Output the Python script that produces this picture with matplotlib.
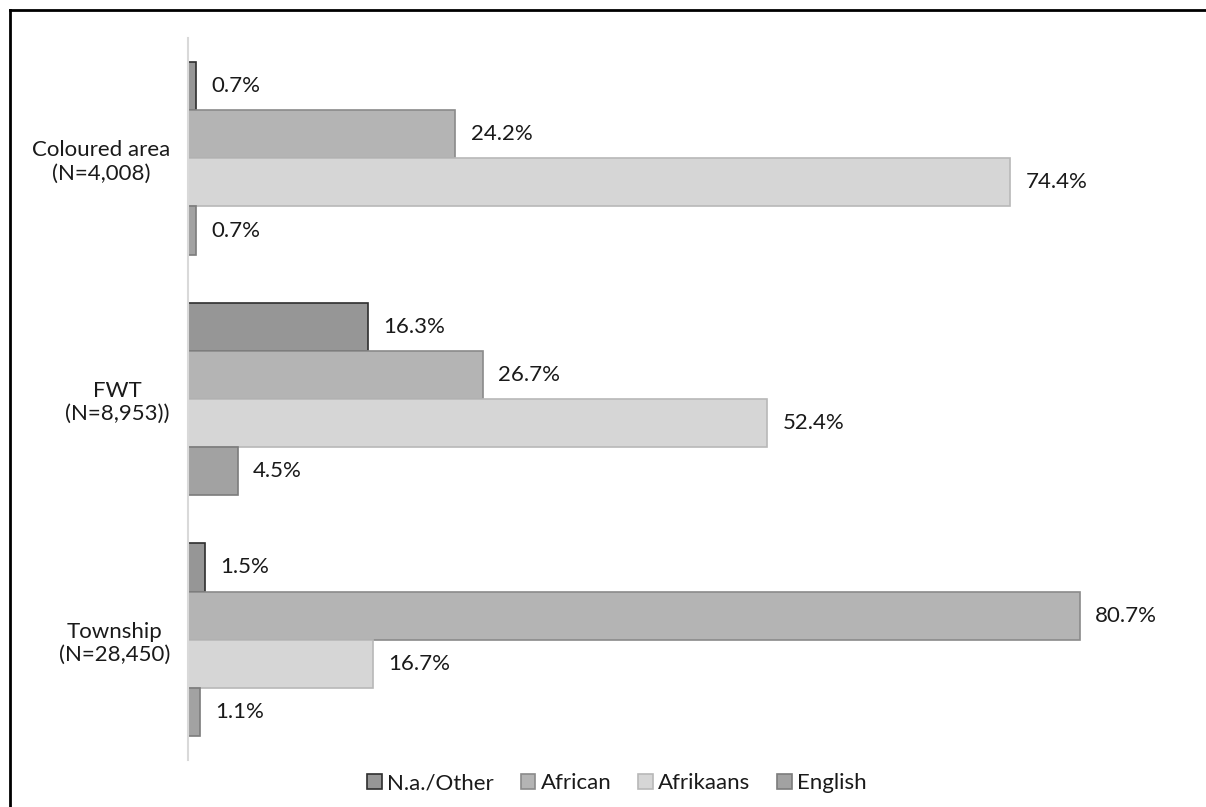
"""Home language by area type, horizontal grouped bars (greyscale)."""

import matplotlib.pyplot as plt
import numpy as np
from matplotlib.lines import Line2D
from matplotlib.patches import Patch

plt.rcParams["font.family"] = ["Lato", "DejaVu Sans"]

AREAS = ["Coloured area\n(N=4,008)", "FWT\n(N=8,953))", "Township\n(N=28,450)"]
LANGUAGES = ["N.a./Other", "African", "Afrikaans", "English"]

# percentages per language, in area order
NA_OTHER = [0.7, 16.3, 1.5]
AFRICAN = [24.2, 26.7, 80.7]
AFRIKAANS = [74.4, 52.4, 16.7]
ENGLISH = [0.7, 4.5, 1.1]

FILLS = ["#969696", "#b4b4b4", "#d6d6d6", "#a2a2a2"]
EDGES = ["#2e2e2e", "#8a8a8a", "#b8b8b8", "#7c7c7c"]

FS = 16


def main() -> None:
    fig = plt.figure(figsize=(12.06, 8.07), dpi=100)
    ax = fig.add_axes([188 / 1206, 1 - 760 / 807, 0.9806 - 188 / 1206, 722 / 807])

    series = [NA_OTHER, AFRICAN, AFRIKAANS, ENGLISH]
    y = np.arange(len(AREAS))
    h = 0.2
    for j, (vals, fc, ec) in enumerate(zip(series, FILLS, EDGES)):
        pos = y + (j - 1.5) * h
        ax.barh(pos, vals, height=h, color=fc, edgecolor=ec, linewidth=1.2, zorder=2)
        for p, v in zip(pos, vals):
            ax.annotate(f"{v:.1f}%", (v, p), xytext=(11, 0), textcoords="offset points",
                        ha="left", va="center", fontsize=FS, color="#1a1a1a")

    ax.set_xlim(0, 90)
    ax.set_ylim(2.5, -0.5)
    ax.set_yticks(y)
    ax.set_yticklabels(AREAS, fontsize=FS, multialignment="center", linespacing=1.2,
                       color="#1a1a1a")
    ax.tick_params(axis="y", length=0, pad=13)
    ax.set_xticks([])
    for side in ["top", "right", "bottom"]:
        ax.spines[side].set_visible(False)
    ax.spines["left"].set_color("#d9d9d9")
    ax.spines["left"].set_linewidth(1.5)

    handles = [Patch(facecolor=fc, edgecolor=ec, linewidth=1.2) for fc, ec in zip(FILLS, EDGES)]
    fig.legend(handles, LANGUAGES, loc="center", bbox_to_anchor=(617 / 1206, 1 - 783 / 807),
               ncol=4, frameon=False, fontsize=FS, handlelength=0.65, handleheight=0.65,
               handletextpad=0.25, columnspacing=1.2, labelcolor="#1a1a1a")

    # chart frame (left and top edges only visible)
    fig.add_artist(Line2D([10 / 1206, 10 / 1206], [0, 1 - 10 / 807], color="black", linewidth=2))
    fig.add_artist(Line2D([10 / 1206, 1], [1 - 10 / 807, 1 - 10 / 807], color="black", linewidth=2))

    fig.savefig("out.png", dpi=100, facecolor="white")


if __name__ == "__main__":
    main()
